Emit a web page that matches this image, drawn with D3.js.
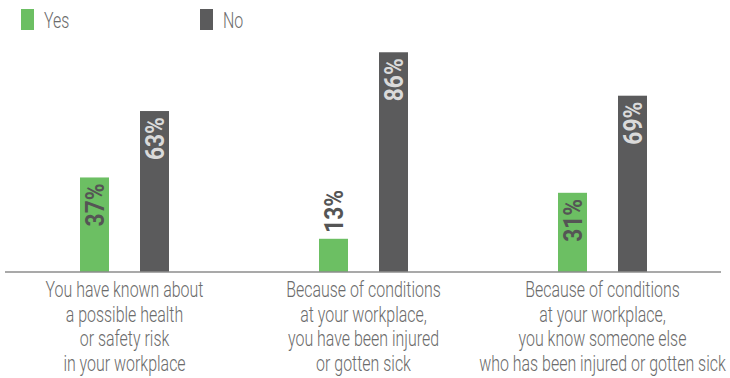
<!DOCTYPE html>
<html><head><meta charset="utf-8">
<script src="https://cdn.jsdelivr.net/npm/d3@7"></script>
<style>body{margin:0;background:#fff}svg{display:block}</style>
</head><body>
<svg id="chart" width="730" height="378"></svg>
<script>
const categories = [
  ["You have known about","a possible health","or safety risk","in your workplace"],
  ["Because of conditions","at your workplace,","you have been injured","or gotten sick"],
  ["Because of conditions","at your workplace,","you know someone else","who has been injured or gotten sick"]
];
const categoryKeys = ["c1","c2","c3"];
const seriesNames = ["Yes","No"];
const yesValues = [37,13,31];
const noValues = [63,86,69];
const colors = {Yes:"#6cbf63", No:"#5b5b5c"};

const svg = d3.select("#chart");
const x0 = d3.scaleBand().domain(categoryKeys).range([5,722]);
const x1 = d3.scaleBand().domain(seriesNames).range([0,x0.bandwidth()]).paddingInner(31/60).paddingOuter(1.25);
const y = d3.scaleLinear().domain([0,100]).range([272,16.5]);

const data = categoryKeys.map((k,i)=>({key:k, lines:categories[i], values:[{s:"Yes",v:yesValues[i]},{s:"No",v:noValues[i]}]}));

// bars
const g = svg.selectAll("g.grp").data(data).join("g").attr("class","grp")
  .attr("transform", d=>`translate(${x0(d.key)},0)`);
g.selectAll("rect").data(d=>d.values).join("rect")
  .attr("x", d=>x1(d.s)).attr("width", x1.bandwidth())
  .attr("y", d=>y(d.v)).attr("height", d=>y(0)-y(d.v))
  .attr("fill", d=>colors[d.s]);

// axis line
svg.append("line").attr("x1",5).attr("x2",721).attr("y1",272).attr("y2",272)
  .attr("stroke","#8c8c8c").attr("stroke-width",1.5);

// measure helper for condensing
function measure(txt, size, weight){
  const t = svg.append("text").attr("font-family","Roboto").attr("font-size",size).attr("font-weight",weight).text(txt);
  const w = t.node().getComputedTextLength(); t.remove(); return w;
}
const labFont = 22;
const fLab = 158 / measure("You have known about", labFont, 300);
const valFont = 25.5;
const fVal = 43 / measure("37%", valFont, 700);

// value labels
g.selectAll("text.val").data(d=>d.values).join("text").attr("class","val")
  .attr("font-family","Roboto").attr("font-weight",700).attr("font-size",valFont)
  .attr("dy","0.36em")
  .each(function(d){
    const cx = x1(d.s) + x1.bandwidth()/2;
    const h = y(0)-y(d.v);
    const inside = h > 55;
    d3.select(this)
      .attr("text-anchor", inside ? "end" : "start")
      .attr("fill", inside ? (d.s==="Yes" ? "#555555" : "#dadada") : "#555555")
      .attr("transform", `translate(${cx},${inside ? y(d.v)+6 : y(d.v)-6}) rotate(-90) scale(${fVal},1)`)
      .text(d.v + "%");
  });

// category labels
data.forEach(d=>{
  const cx = x0(d.key) + x0.bandwidth()/2;
  d.lines.forEach((ln,i)=>{
    svg.append("text").attr("font-family","Roboto").attr("font-weight",300).attr("font-size",labFont)
      .attr("fill","#6b6b6b").attr("text-anchor","middle")
      .attr("transform",`translate(${cx},${297+24.7*i}) scale(${fLab},1)`)
      .text(ln);
  });
});

// legend
const legendX = [21,200];
seriesNames.forEach((s,i)=>{
  svg.append("rect").attr("x",legendX[i]).attr("y",9).attr("width",13).attr("height",21).attr("fill",colors[s]);
  svg.append("text").attr("font-family","Roboto").attr("font-weight",300).attr("font-size",labFont)
    .attr("fill","#6b6b6b")
    .attr("transform",`translate(${legendX[i]+23},28) scale(${fLab},1)`).text(s);
});
</script>
</body></html>
